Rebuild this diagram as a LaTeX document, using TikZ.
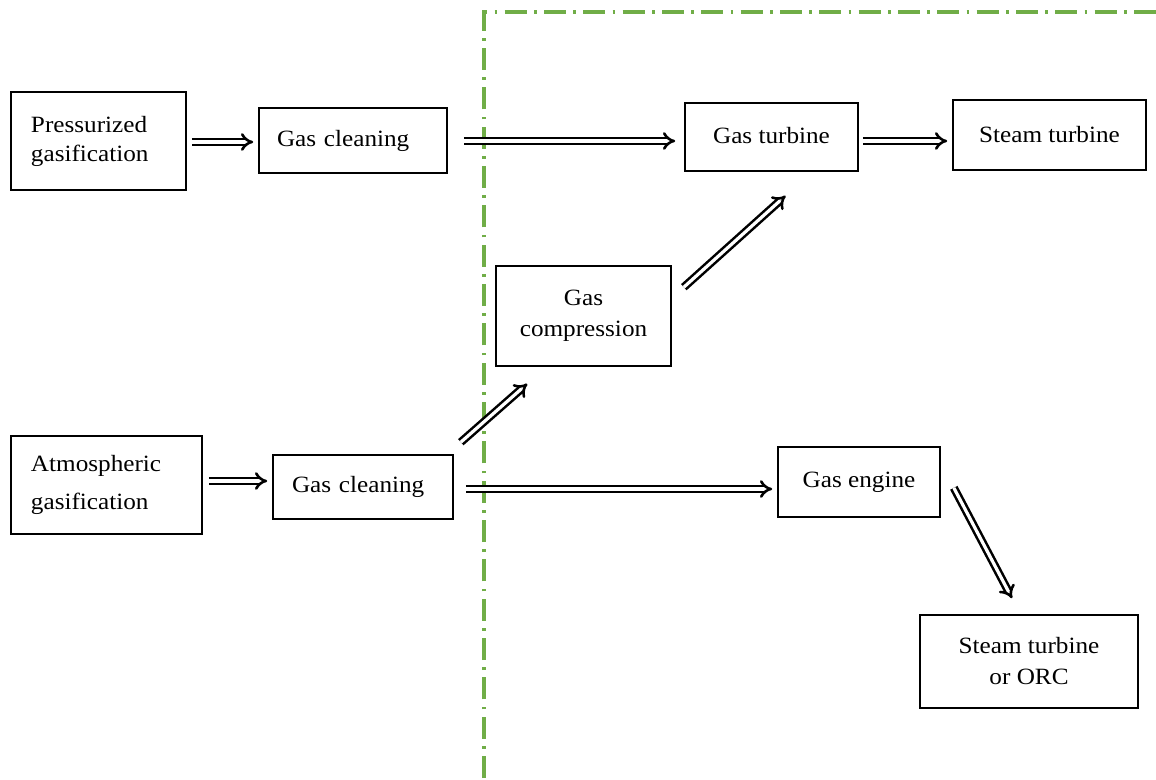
\documentclass[tikz,border=0pt]{standalone}
\usepackage{fontspec}
\setmainfont{Liberation Serif}[FakeStretch=1.08]
\usetikzlibrary{arrows.meta,calc}
\definecolor{dashgreen}{HTML}{70AD47}
\tikzset{
  box/.style={draw=black,line width=1.2pt,inner sep=0pt,font=\fontsize{17.5}{21.75}\selectfont},
  arr/.style={double=white,double distance=2.4pt,line width=1.9pt,-{Implies[scale=1.5]},black},
  border/.style={dashgreen,line width=2.3pt,dash pattern=on 16.5pt off 5.5pt on 2pt off 5.5pt}
}
\begin{document}
\begin{tikzpicture}[x=0.75pt,y=-0.75pt]
\useasboundingbox (0,0) rectangle (1156,780);
\draw[border] (484,778) -- (484,12) -- (1156,12);
% boxes
\node[box,minimum width=175*0.75pt,minimum height=98*0.75pt,align=left,text width=135*0.75pt,inner xsep=20*0.75pt] (p1) at (98.5,141) {Pressurized\\gasification};
\node[box,minimum width=188*0.75pt,minimum height=65*0.75pt,text width=152*0.75pt,inner xsep=18*0.75pt,align=left] (c1) at (353,140.5) {\raisebox{-2pt}{Gas cleaning}};
\node[box,minimum width=173*0.75pt,minimum height=68*0.75pt] (gt) at (771.5,137) {\raisebox{2pt}{Gas turbine}};
\node[box,minimum width=193*0.75pt,minimum height=70*0.75pt] (st) at (1049.5,135) {Steam turbine};
\node[box,minimum width=175*0.75pt,minimum height=100*0.75pt,align=center,font=\fontsize{17.5}{23.25}\selectfont] (gc) at (583.5,316) {Gas\\compression};
\node[box,minimum width=191*0.75pt,minimum height=98*0.75pt,align=left,text width=151*0.75pt,inner xsep=20*0.75pt,font=\fontsize{17.5}{28.5}\selectfont] (p2) at (106.5,485) {Atmospheric\\gasification};
\node[box,minimum width=180*0.75pt,minimum height=64*0.75pt,text width=142*0.75pt,inner xsep=19*0.75pt,align=left] (c2) at (363,487) {\raisebox{3pt}{Gas cleaning}};
\node[box,minimum width=162*0.75pt,minimum height=70*0.75pt] (ge) at (859,482) {\raisebox{3pt}{Gas engine}};
\node[box,minimum width=218*0.75pt,minimum height=93*0.75pt,align=center,font=\fontsize{17.5}{23.25}\selectfont] (so) at (1029,661.5) {Steam turbine\\or ORC};
% arrows
\draw[arr,shorten <=5*0.75pt,shorten >=5*0.75pt] (p1.east |- 0,142) -- (c1.west |- 0,142);
\draw[arr,shorten <=16*0.75pt,shorten >=9*0.75pt] (c1.east |- 0,141) -- (gt.west |- 0,141);
\draw[arr,shorten <=4*0.75pt,shorten >=5*0.75pt] (gt.east |- 0,141) -- (st.west |- 0,141);
\draw[arr] ($(gc.north east)+(12,22)$) -- ($(gt.south)+(14,24)$);
\draw[arr,shorten <=6*0.75pt,shorten >=5*0.75pt] (p2.east |- 0,481) -- (c2.west |- 0,481);
\draw[arr] ($(c2.north east)+(7,-12)$) -- ($(gc.south west)+(32,17)$);
\draw[arr,shorten <=12*0.75pt,shorten >=5*0.75pt] (c2.east |- 0,489) -- (ge.west |- 0,489);
\draw[arr] ($(ge.south east)+(13,-30)$) -- ($(so.north)+(-17,-16)$);
\end{tikzpicture}
\end{document}
